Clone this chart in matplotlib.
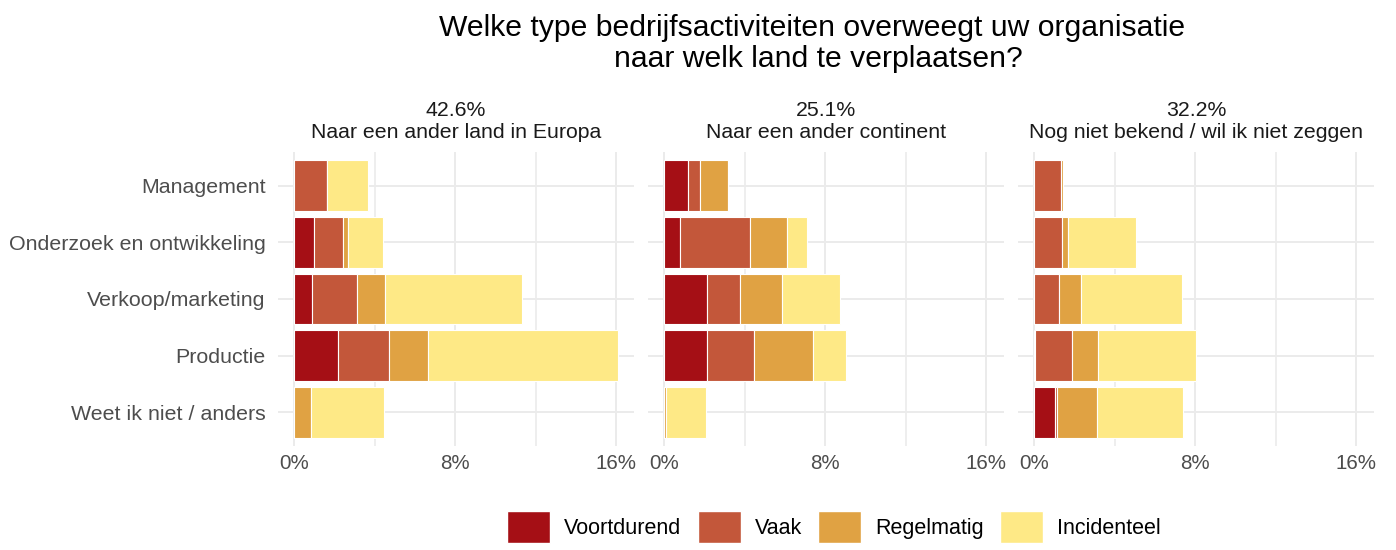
import numpy as np
import matplotlib.pyplot as plt
from matplotlib.patches import Patch
from matplotlib.ticker import FixedLocator, FuncFormatter

plt.rcParams['font.family'] = ['Liberation Sans', 'DejaVu Sans']

categories = ['Management', 'Onderzoek en ontwikkeling', 'Verkoop/marketing',
              'Productie', 'Weet ik niet / anders']
levels = ['Voortdurend', 'Vaak', 'Regelmatig', 'Incidenteel']
colors = ['#A50F15', '#C3573A', '#E0A243', '#FEE986']

panel_share = ['42.6%', '25.1%', '32.2%']
panel_names = ['Naar een ander land in Europa', 'Naar een ander continent',
               'Nog niet bekend / wil ik niet zeggen']

# percentages per category (rows) and frequency level (columns)
europa = [
    [0.00, 1.63, 0.00, 2.06],
    [1.00, 1.41, 0.25, 1.76],
    [0.88, 2.26, 1.36, 6.80],
    [2.17, 2.55, 1.91, 9.45],
    [0.00, 0.00, 0.85, 3.60],
]
continent = [
    [1.16, 0.63, 1.36, 0.00],
    [0.81, 3.45, 1.84, 1.01],
    [2.12, 1.64, 2.10, 2.87],
    [2.14, 2.30, 2.95, 1.64],
    [0.00, 0.00, 0.08, 2.02],
]
onbekend = [
    [0.00, 1.34, 0.07, 0.00],
    [0.00, 1.36, 0.33, 3.39],
    [0.00, 1.21, 1.13, 5.01],
    [0.03, 1.83, 1.29, 4.90],
    [1.05, 0.10, 1.96, 4.27],
]
panels = [np.array(europa), np.array(continent), np.array(onbekend)]

xmax = max(p.sum(axis=1).max() for p in panels)
W, H = 1396, 550
fig = plt.figure(figsize=(W / 100, H / 100), dpi=100)

lefts = [278, 648, 1018]
grid_c = '#EBEBEB'
for k, (data, left) in enumerate(zip(panels, lefts)):
    ax = fig.add_axes([left / W, 1 - 446 / H, 356 / W, 294 / H])
    y = np.arange(len(categories))
    start = np.zeros(len(categories))
    for j, lev in enumerate(levels):
        ax.barh(y, data[:, j], left=start, height=0.9, color=colors[j],
                edgecolor='white', linewidth=0.8, zorder=3)
        start += data[:, j]
    ax.set_xlim(-0.05 * xmax, 1.05 * xmax)
    ax.set_ylim(len(categories) - 0.4, -0.6)
    ax.xaxis.set_major_locator(FixedLocator([0, 8, 16]))
    ax.xaxis.set_minor_locator(FixedLocator([4, 12]))
    ax.xaxis.set_major_formatter(FuncFormatter(lambda v, p: f'{v:.0f}%'))
    ax.set_yticks(y)
    if k == 0:
        ax.set_yticklabels(categories, fontsize=15.4, color='#4D4D4D')
    else:
        ax.set_yticklabels([])
    ax.tick_params(axis='both', which='both', length=0)
    ax.tick_params(axis='y', pad=9)
    ax.tick_params(axis='x', labelsize=14.8, labelcolor='#4D4D4D', pad=6)
    ax.grid(True, which='major', color=grid_c, linewidth=1.4, zorder=0)
    ax.grid(True, which='minor', axis='x', color=grid_c, linewidth=1.2, zorder=0)
    for s in ax.spines.values():
        s.set_visible(False)
    # facet strip: share on top, destination below
    ax.annotate(panel_share[k], (0.5, 1), xycoords='axes fraction',
                xytext=(0, 36), textcoords='offset pixels', ha='center',
                va='baseline', fontsize=15.3, color='#1A1A1A')
    ax.annotate(panel_names[k], (0.5, 1), xycoords='axes fraction',
                xytext=(0, 14), textcoords='offset pixels', ha='center',
                va='baseline', fontsize=15.3, color='#1A1A1A')

fig.text(812 / W, 1 - 36 / H, 'Welke type bedrijfsactiviteiten overweegt uw organisatie',
         ha='center', va='baseline', fontsize=21.7, color='black')
fig.text(818 / W, 1 - 67 / H, 'naar welk land te verplaatsen?',
         ha='center', va='baseline', fontsize=21.7, color='black')

handles = [Patch(facecolor=c, edgecolor='white', label=l) for c, l in zip(colors, levels)]
fig.legend(handles=handles, loc='center', bbox_to_anchor=(834 / W, 1 - 527 / H),
           ncol=4, frameon=False, fontsize=15.5, handlelength=2.0, handleheight=1.95,
           handletextpad=0.65, columnspacing=0.75, borderpad=0)

fig.savefig('out.png', dpi=100)
